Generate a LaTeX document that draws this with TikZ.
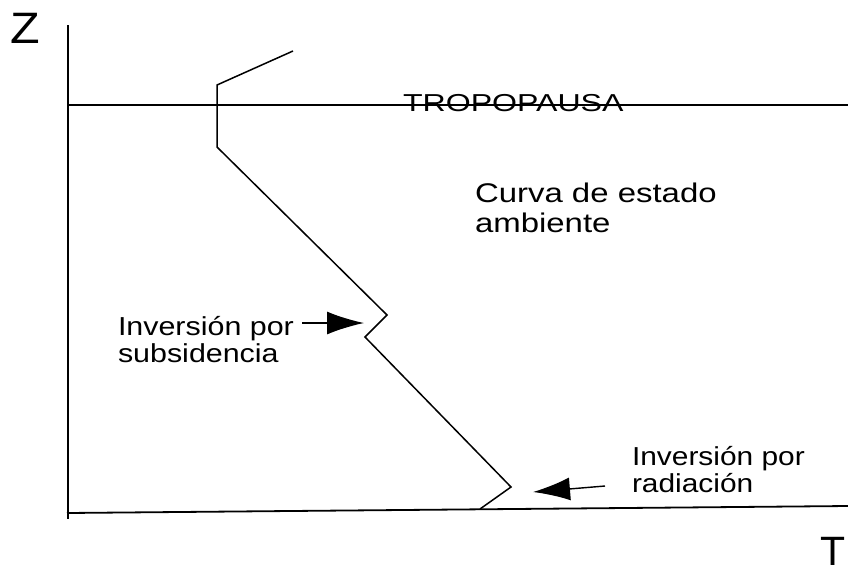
\documentclass[tikz,border=0pt]{standalone}
\usepackage{fontspec}
\setmainfont{Liberation Sans}
\usetikzlibrary{arrows.meta}
\tikzset{
  axisline/.style={line width=1.8pt, black},
  curveline/.style={line width=1.5pt, black},
  bigarrow/.style={line width=1.4pt, black, -{Latex[length=37pt,width=23pt]}},
  lbl/.style={inner sep=0pt, outer sep=0pt, anchor=base west, text=black}
}
\begin{document}
\begin{tikzpicture}[x=1pt, y=-1pt]
\useasboundingbox (0,0) rectangle (848,576);
% axes
\coordinate (ztop) at (68,25);
\coordinate (origin) at (68,519);
\coordinate (xleft) at (67,513);
\coordinate (xright) at (848,506);
\coordinate (tleft) at (68,105);
\coordinate (tright) at (848,105);
\draw[axisline] (ztop) -- (origin);
\draw[axisline] (xleft) -- (xright);
% axis labels
\node[lbl] (zlab) at (10,43) {\scalebox{1.1}[1]{\fontsize{44}{48}\selectfont Z}};
\node[lbl] (tlab) at (820,565) {\fontsize{41}{45}\selectfont T};
% tropopausa text
\node[lbl] (trop) at (403,111) {\scalebox{1.31}[1]{\fontsize{24.5}{27}\selectfont TROPOPAUSA}};
\draw[line width=1.6pt] (tleft) -- (tright);
% state curve
\coordinate (c1) at (293,51);
\coordinate (c2) at (217,85);
\coordinate (c3) at (217,147);
\coordinate (c4) at (387,315);
\coordinate (c5) at (365,337);
\coordinate (c6) at (511,487);
\coordinate (c7) at (480,509);
\draw[curveline, line join=miter] (c1) -- (c2) -- (c3) -- (c4) -- (c5) -- (c6) -- (c7);
% curve label
\node[lbl] (curva) at (475,202) {\scalebox{1.22}[1]{\fontsize{27}{30}\selectfont\begin{tabular}[t]{@{}l@{}}Curva de estado\\ambiente\end{tabular}}};
% subsidence inversion
\node[lbl] (subs) at (118,335) {\scalebox{1.17}[1]{\fontsize{26}{27}\selectfont\begin{tabular}[t]{@{}l@{}}Inversión por\\subsidencia\end{tabular}}};
\coordinate (subtail) at (302,323);
\coordinate (subtip) at (364,323);
\draw[bigarrow] (subtail) -- (subtip);
% radiation inversion
\node[lbl] (rad) at (632,465) {\scalebox{1.15}[1]{\fontsize{26}{27}\selectfont\begin{tabular}[t]{@{}l@{}}Inversión por\\radiación\end{tabular}}};
\coordinate (radtail) at (605,486);
\coordinate (radtip) at (533,492);
\draw[bigarrow] (radtail) -- (radtip);
\end{tikzpicture}
\end{document}
